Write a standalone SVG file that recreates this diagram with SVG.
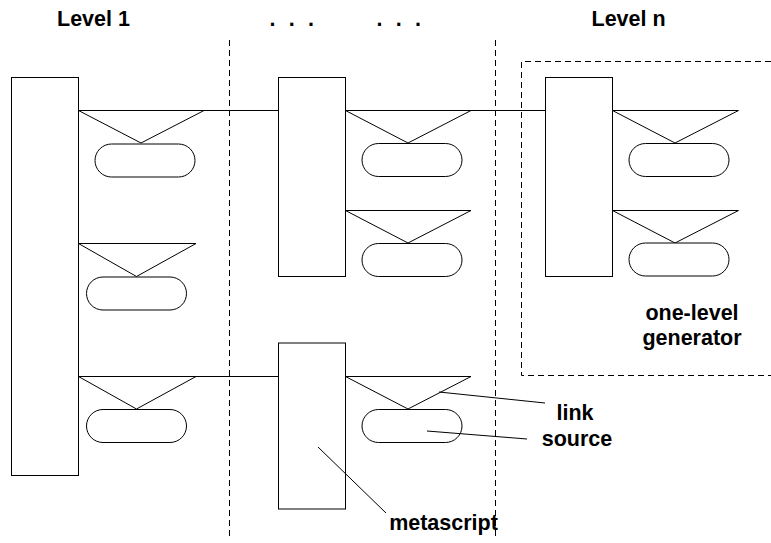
<svg xmlns="http://www.w3.org/2000/svg" width="771" height="543" viewBox="0 0 771 543">
<style>
.box{fill:#fff;stroke:#000;stroke-width:1}
.tri{fill:#fff;stroke:#000;stroke-width:1;stroke-linejoin:miter}
.pill{fill:#fff;stroke:#000;stroke-width:1}
.ln{fill:none;stroke:#000;stroke-width:1}
.dash{fill:none;stroke:#000;stroke-width:1;stroke-dasharray:6 4}
.lbl{font-family:"Liberation Sans",Arial,Helvetica,sans-serif;font-weight:bold;font-size:21.5px;fill:#000}
</style>
<rect width="771" height="543" fill="#fff"/>
<g id="separators">
<line class="dash" x1="229.5" y1="40" x2="229.5" y2="540"/>
<line class="dash" x1="495.5" y1="40" x2="495.5" y2="540"/>
<path id="one-level-generator-frame" class="dash" d="M771,61.5 H521.5 V375.5 H771"/>
</g>
<g id="headers">
<text class="lbl" x="57" y="26">Level 1</text>
<text class="lbl" x="269.5" y="26" word-spacing="7.3">. . .</text>
<text class="lbl" x="376.5" y="26" word-spacing="7.3">. . .</text>
<text class="lbl" x="591.5" y="26">Level n</text>
</g>
<g id="level1">
<rect class="box" x="11.5" y="77.5" width="67" height="398"/>
<g id="l1-gen1"><polygon class="tri" points="78.5,110.5 204,110.5 141,143"/><rect class="pill" x="95" y="144" width="100" height="33" rx="16.5"/></g>
<g id="l1-gen2"><polygon class="tri" points="78.5,243.5 196,243.5 136.5,276.5"/><rect class="pill" x="86.5" y="277" width="100" height="33" rx="16.5"/></g>
<g id="l1-gen3"><polygon class="tri" points="78.5,376.5 196,376.5 136.5,409"/><rect class="pill" x="86.5" y="409.5" width="100" height="33" rx="16.5"/></g>
</g>
<g id="level2-top">
<rect class="box" x="278.5" y="77.5" width="67" height="199"/>
<g id="l2a-gen1"><polygon class="tri" points="345.5,110.5 471,110.5 408,143"/><rect class="pill" x="362" y="143.5" width="100" height="33" rx="16.5"/></g>
<g id="l2a-gen2"><polygon class="tri" points="345.5,210.5 471,210.5 408,243"/><rect class="pill" x="362" y="243.5" width="100" height="33" rx="16.5"/></g>
</g>
<g id="metascript-node">
<rect class="box" x="278.5" y="343" width="67" height="166"/>
<g id="l2b-gen1"><polygon class="tri" points="345.5,376.5 471,376.5 408,409"/><rect class="pill" x="362" y="409.5" width="100" height="33" rx="16.5"/></g>
</g>
<g id="leveln">
<rect class="box" x="545.5" y="77.5" width="67" height="199"/>
<g id="ln-gen1"><polygon class="tri" points="612.5,110.5 738.5,110.5 675,143"/><rect class="pill" x="629" y="143.5" width="100" height="33" rx="16.5"/></g>
<g id="ln-gen2"><polygon class="tri" points="612.5,210.5 738.5,210.5 675,243"/><rect class="pill" x="629" y="243" width="100" height="33" rx="16.5"/></g>
</g>
<g id="connectors">
<line class="ln" x1="78.5" y1="110.5" x2="278.5" y2="110.5"/>
<line class="ln" x1="345.5" y1="110.5" x2="545.5" y2="110.5"/>
<line class="ln" x1="78.5" y1="376.5" x2="278.5" y2="376.5"/>
<line class="ln" x1="439" y1="392" x2="545" y2="403"/>
<line class="ln" x1="427" y1="431" x2="527" y2="439"/>
<line class="ln" x1="318" y1="447" x2="386" y2="513"/>
</g>
<g id="labels">
<text class="lbl" x="692" y="320" text-anchor="middle">one-level</text>
<text class="lbl" x="692" y="345" text-anchor="middle">generator</text>
<text class="lbl" x="575" y="420" text-anchor="middle">link</text>
<text class="lbl" x="577" y="446" text-anchor="middle">source</text>
<text class="lbl" x="443.5" y="530" text-anchor="middle">metascript</text>
</g>
</svg>
